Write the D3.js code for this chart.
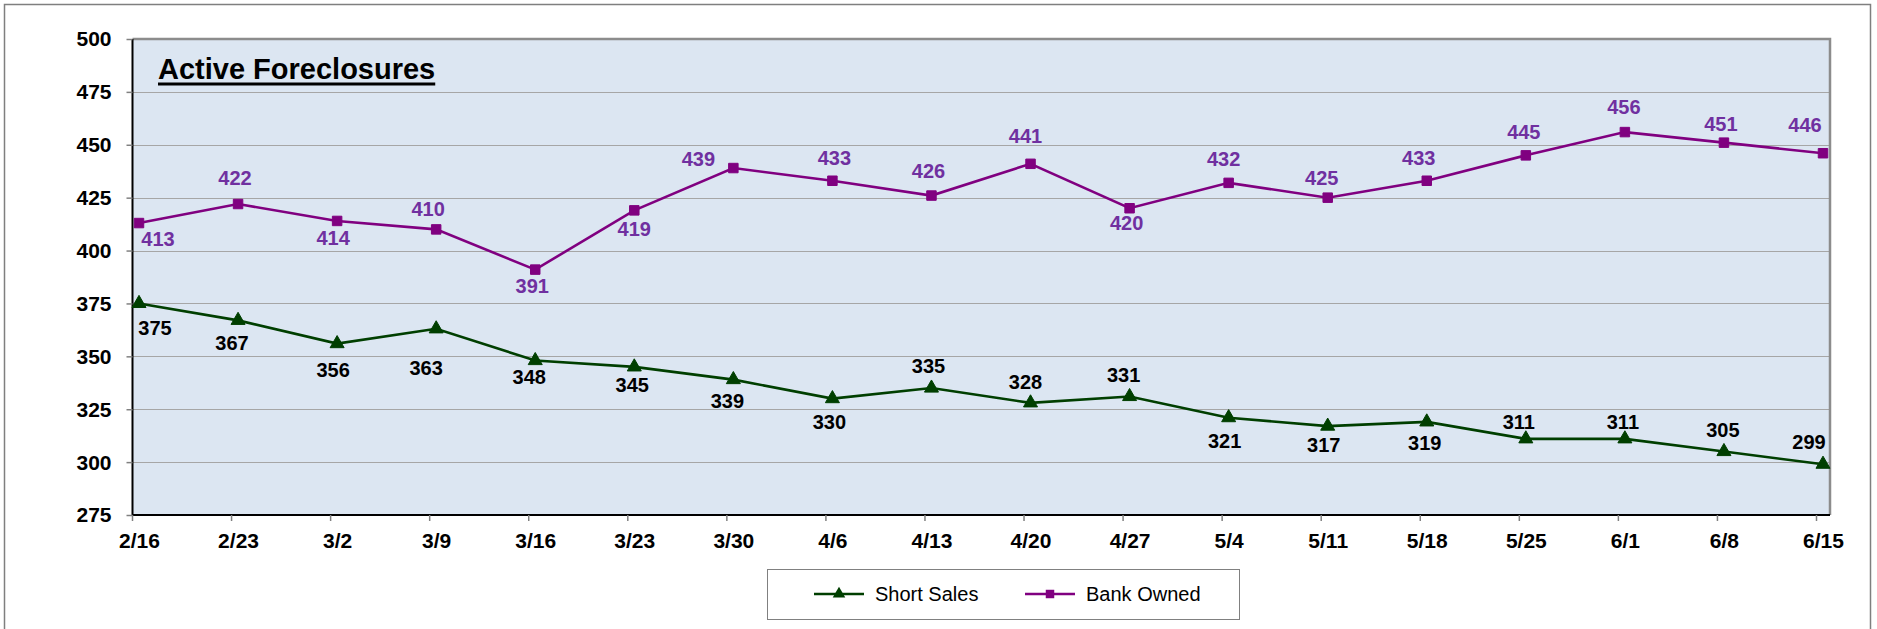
<html>
  <head>
    <title>Active Foreclosures</title>
    <script type="text/javascript" src="https://cdn.jsdelivr.net/npm/d3@7"></script>
    <style type="text/css">

body {
  margin: 0;
  background: #fff;
  font-family: "Liberation Sans", Arial, sans-serif;
}

.grid line {
  stroke: #a6a6a6;
  stroke-width: 1px;
  shape-rendering: crispEdges;
}

.axis text {
  font: bold 21px "Liberation Sans", Arial, sans-serif;
  fill: #000;
}

.axis .tick line {
  stroke: #808080;
  stroke-width: 1.5px;
}

.axis path.domain {
  display: none;
}

.label {
  font: bold 20px "Liberation Sans", Arial, sans-serif;
  text-anchor: middle;
}

.legend text {
  font: 20px "Liberation Sans", Arial, sans-serif;
  fill: #000;
}

    </style>
  </head>
  <body>
    <script type="text/javascript">

var weeks = ["2/16", "2/23", "3/2", "3/9", "3/16", "3/23", "3/30", "4/6", "4/13",
             "4/20", "4/27", "5/4", "5/11", "5/18", "5/25", "6/1", "6/8", "6/15"];

var shortSales = [375, 367, 356, 363, 348, 345, 339, 330, 335,
                  328, 331, 321, 317, 319, 311, 311, 305, 299];

var bankOwned = [413, 422, 414, 410, 391, 419, 439, 433, 426,
                 441, 420, 432, 425, 433, 445, 456, 451, 446];

var yTicks = [275, 300, 325, 350, 375, 400, 425, 450, 475, 500];

// hand nudges of the data labels (px from their point), as placed in the original
var shortDx = [16, -6, -4, -10, -6, -2, -6, -3, -3, -5, -6, -4, -4, -2, -7, -2, -1, -14];
var shortDy = [32, 30, 33, 46, 23, 25, 28, 30, -15, -14, -15, 30, 26, 28, -10, -10, -15, -15];
var bankDx  = [19, -3, -4, -8, -3, 0, -35, 2, -3, -5, -3, -5, -6, -8, -2, -1, -3, -18];
var bankDy  = [23, -19, 24, -13, 23, 26, -2, -16, -18, -21, 22, -17, -13, -16, -16, -18, -12, -21];

var W = 1877,
    H = 629,
    pLeft = 132.5,
    pRight = 1830,
    pTop = 39,
    pBottom = 515;

var x = d3.scalePoint().domain(weeks).range([139, 1823]),
    y = d3.scaleLinear().domain([275, 500]).range([pBottom, pTop]);

var svg = d3.select("body")
  .append("svg")
    .attr("width", W)
    .attr("height", H);

// outer frame
svg.append("path")
    .attr("d", "M4.5," + H + "V4.5H1870.5V" + H)
    .attr("fill", "none")
    .attr("stroke", "#7f7f7f")
    .attr("stroke-width", 1.5);

// plot area
svg.append("rect")
    .attr("x", pLeft)
    .attr("y", pTop)
    .attr("width", pRight - pLeft)
    .attr("height", pBottom - pTop)
    .attr("fill", "#dce6f2");

svg.append("g")
    .attr("class", "grid")
  .selectAll("line")
    .data(yTicks.slice(1, -1))
  .enter().append("line")
    .attr("x1", pLeft)
    .attr("x2", pRight)
    .attr("y1", function(d) { return Math.round(y(d)) + 0.5; })
    .attr("y2", function(d) { return Math.round(y(d)) + 0.5; });

svg.append("path")
    .attr("d", "M" + pLeft + "," + pTop + "H" + pRight + "V" + pBottom)
    .attr("fill", "none")
    .attr("stroke", "#8c8c8c")
    .attr("stroke-width", 2.5);

svg.append("path")
    .attr("d", "M" + pLeft + "," + pTop + "V" + pBottom + "H" + pRight)
    .attr("fill", "none")
    .attr("stroke", "#000")
    .attr("stroke-width", 2);

// axes
svg.append("g")
    .attr("class", "axis")
    .attr("transform", "translate(" + pLeft + ",0)")
    .call(d3.axisLeft(y).tickValues(yTicks).tickSize(6).tickPadding(15))
  .selectAll("text")
    .attr("dy", "0.33em");

var xAxis = svg.append("g")
    .attr("class", "axis")
    .attr("transform", "translate(0," + pBottom + ")")
    .call(d3.axisBottom(x).tickSize(6).tickPadding(12));

xAxis.selectAll(".tick line")
    .attr("x1", -7)
    .attr("x2", -7);

// title
var title = svg.append("text")
    .attr("x", 158)
    .attr("y", 79)
    .style("font", "bold 29px 'Liberation Sans', Arial, sans-serif")
    .text("Active Foreclosures");

svg.append("line")
    .attr("x1", 158)
    .attr("x2", 158 + title.node().getComputedTextLength())
    .attr("y1", 84)
    .attr("y2", 84)
    .attr("stroke", "#000")
    .attr("stroke-width", 3.2);

var series = [
  {name: "Short Sales", values: shortSales, dx: shortDx, dy: shortDy, color: "#003f00", labelColor: "#000", symbol: d3.symbolTriangle, size: 85},
  {name: "Bank Owned", values: bankOwned, dx: bankDx, dy: bankDy, color: "#800080", labelColor: "#7030a0", symbol: d3.symbolSquare, size: 90}
];

var line = d3.line()
    .x(function(d, i) { return x(weeks[i]); })
    .y(function(d) { return y(d); });

series.forEach(function(s) {
  var g = svg.append("g");

  g.append("path")
      .attr("d", line(s.values))
      .attr("fill", "none")
      .attr("stroke", s.color)
      .attr("stroke-width", 2.6);

  g.selectAll("path.mark")
      .data(s.values)
    .enter().append("path")
      .attr("class", "mark")
      .attr("transform", function(d, i) { return "translate(" + x(weeks[i]) + "," + y(d) + ")"; })
      .attr("d", d3.symbol().type(s.symbol).size(s.size))
      .attr("fill", s.color)
      .attr("stroke", s.color)
      .attr("stroke-width", 1);

  g.selectAll("text")
      .data(s.values)
    .enter().append("text")
      .attr("class", "label")
      .attr("fill", s.labelColor)
      .attr("x", function(d, i) { return x(weeks[i]) + s.dx[i]; })
      .attr("y", function(d, i) { return y(d) + s.dy[i]; })
      .text(function(d) { return d; });
});

// legend
var legend = svg.append("g")
    .attr("class", "legend");

legend.append("rect")
    .attr("x", 767.5)
    .attr("y", 569.5)
    .attr("width", 472)
    .attr("height", 50)
    .attr("fill", "#fff")
    .attr("stroke", "#808080")
    .attr("stroke-width", 1);

var items = legend.selectAll("g.item")
    .data(series)
  .enter().append("g")
    .attr("class", "item")
    .attr("transform", function(d, i) { return "translate(" + (814 + i * 211) + ",594)"; });

items.append("line")
    .attr("x1", 0)
    .attr("x2", 50)
    .attr("stroke", function(d) { return d.color; })
    .attr("stroke-width", 2.5);

items.append("path")
    .attr("transform", "translate(25,0)")
    .attr("d", function(d) { return d3.symbol().type(d.symbol).size(d.size * 0.8)(); })
    .attr("fill", function(d) { return d.color; });

items.append("text")
    .attr("x", 61)
    .attr("y", 7)
    .text(function(d) { return d.name; });

    </script>
  </body>
</html>
